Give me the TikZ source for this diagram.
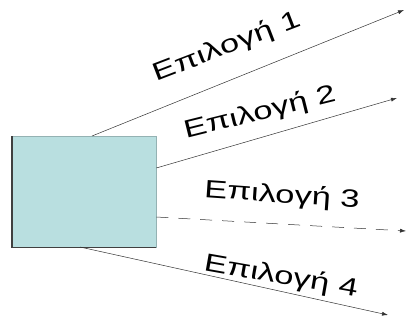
\documentclass[tikz,border=0pt]{standalone}
\usepackage{fontspec}
\setmainfont{Liberation Sans}
\usetikzlibrary{arrows.meta}
\begin{document}
\begin{tikzpicture}[x=1pt,y=-1pt,
  choice/.style={draw=black!80, line width=0.5pt, -{Latex[length=6pt,width=4pt]}},
  lbl/.style={font=\fontsize{25}{25}\selectfont, xscale=1.38, inner sep=0pt, anchor=center},
  block/.style={fill=boxcyan, draw=boxcyan!80!black, line width=0.3pt, minimum width=144pt, minimum height=111pt, inner sep=0pt, anchor=north west}]
\definecolor{boxcyan}{HTML}{B9DFE0}
\useasboundingbox (0,0) rectangle (406,324);
% source block with a darker left and bottom edge
\node[block] (box) at (12,136) {};
\draw[black!75, line width=1.6pt] (box.north west) -- (box.south west) -- (box.south east);
% end points of the four options
\coordinate (e1) at (404,10);
\coordinate (e2) at (397,98);
\coordinate (e3) at (406,231);
\coordinate (e4) at (388,315);
\coordinate (s1) at (92,136);
\coordinate (s4) at (80,247);
\draw[choice] (s1) -- (e1);
\draw[choice] (box.east |- 0,168) -- (e2);
\draw[choice, dash pattern=on 12pt off 10pt] (box.east |- 0,217) -- (e3);
\draw[choice] (s4) -- (e4);
% labels
\node[rotate=21, lbl] (l1) at (227,47) {Επιλογή 1};
\node[rotate=14, lbl] (l2) at (260,113) {Επιλογή 2};
\node[rotate=-4, lbl] (l3) at (282,196) {Επιλογή 3};
\node[rotate=-10, lbl] (l4) at (281,277) {Επιλογή 4};
\end{tikzpicture}
\end{document}
